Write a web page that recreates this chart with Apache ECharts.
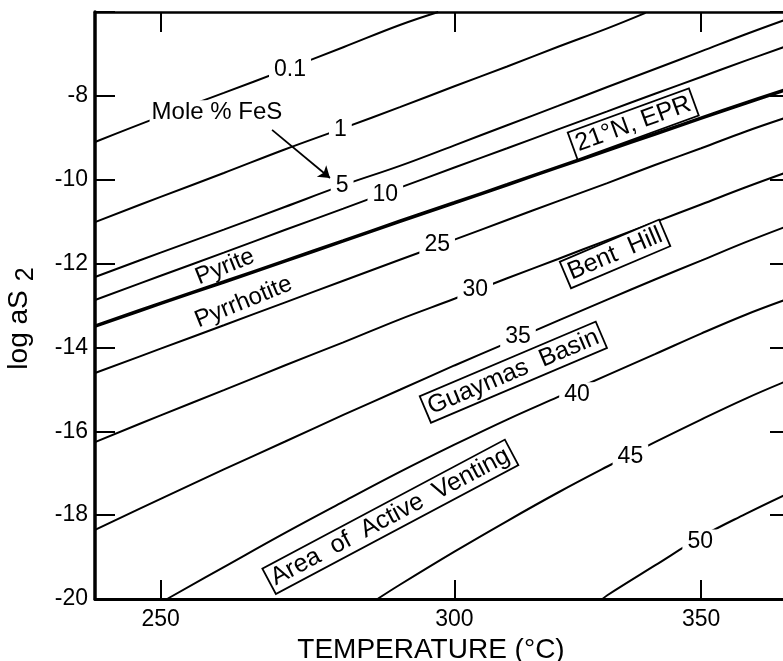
<!DOCTYPE html>
<html><head><meta charset="utf-8">
<script src="https://cdn.jsdelivr.net/npm/echarts@6/dist/echarts.min.js"></script>
<style>html,body{margin:0;padding:0;background:#fff}#c{width:783px;height:661px}</style>
</head><body><div id="c"></div>
<script>
// ---- axis definitions ----
const tempTicks = [250, 300, 350];
const logTicks = [-20, -18, -16, -14, -12, -10, -8];
const tMin = 240, tMax = 370, yMin = -20, yMax = -6;

// ---- contour lines: Mole % FeS in sphalerite (temperature °C, log aS2) ----
const gridT = [240, 250, 260, 270, 280, 290, 300, 310, 320, 330, 340, 350, 360, 369];
const fes01T = [240, 250, 260, 270, 280, 290, 297];
const fes01Y = [-9.10, -8.49, -7.93, -7.38, -6.84, -6.31, -6.00];
const fes1T = [240, 250, 260, 270, 280, 290, 300, 310, 320, 330, 338];
const fes1Y = [-11.01, -10.41, -9.84, -9.28, -8.77, -8.27, -7.77, -7.30, -6.83, -6.39, -6.02];
const fes5Y = [-12.32, -11.74, -11.19, -10.65, -10.13, -9.67, -9.18, -8.70, -8.24, -7.79, -7.36, -6.94, -6.53, -6.19];
const fes10Y = [-12.87, -12.29, -11.74, -11.20, -10.69, -10.19, -9.71, -9.25, -8.80, -8.37, -7.95, -7.55, -7.16, -6.83];
const pyPoY = [-13.49, -12.95, -12.44, -11.94, -11.46, -10.99, -10.55, -10.12, -9.70, -9.30, -8.91, -8.53, -8.17, -7.86];
const fes25Y = [-14.61, -14.03, -13.47, -12.93, -12.41, -11.91, -11.43, -10.96, -10.51, -10.08, -9.65, -9.25, -8.85, -8.53];
const fes30Y = [-16.26, -15.62, -15.02, -14.43, -13.88, -13.33, -12.84, -12.35, -11.89, -11.44, -11.01, -10.59, -10.18, -9.84];
const fes35Y = [-18.35, -17.61, -16.91, -16.25, -15.61, -15.01, -14.43, -13.89, -13.36, -12.86, -12.38, -11.93, -11.49, -11.13];
const fes40T = [251, 260, 270, 280, 290, 300, 310, 320, 330, 340, 350, 360, 369];
const fes40Y = [-20.00, -19.24, -18.43, -17.68, -16.97, -16.32, -15.72, -15.18, -14.66, -14.16, -13.67, -13.22, -12.87];
const fes45T = [286, 290, 300, 310, 320, 330, 340, 350, 360, 369];
const fes45Y = [-20.00, -19.66, -18.87, -18.14, -17.46, -16.84, -16.26, -15.72, -15.22, -14.82];
const fes50T = [329, 330, 340, 350, 360, 369];
const fes50Y = [-20.00, -19.91, -19.20, -18.52, -17.97, -17.52];

// ---- contour value labels ----
const levelText = ['0.1', '1', '5', '10', '25', '30', '35', '40', '45', '50'];
const levelT = [270.9, 279.5, 279.8, 287.4, 296.8, 303.9, 312.1, 323.8, 334.8, 349.8];
const levelY = [-7.38, -8.81, -10.13, -10.36, -11.56, -12.63, -13.75, -15.13, -16.61, -18.64];

// ---- field names / boxed labels ----
const fieldText = ['Pyrite', 'Pyrrhotite'];
const fieldT = [260.2, 263.2];
const fieldY = [-12.08, -12.92];
const boxText = ['21°N, EPR', 'Bent  Hill', 'Guaymas  Basin', 'Area  of  Active  Venting'];
const boxT = [335.4, 331.6, 311.2, 288.3];
const boxY = [-8.67, -11.77, -14.59, -18.04];
const noteText = 'Mole % FeS';
const noteT = 258.9, noteY = -8.39;
const arrowT = [267.9, 277.7];
const arrowY = [-8.81, -9.96];

const FONT = 'Liberation Sans, Arial, Helvetica, sans-serif';
const toX = t => -1000 / (t + 273.15);
const fromX = x => -1000 / x - 273.15;
const pairs = (T, Y) => T.map((t, i) => [toX(t), Y[i]]);

function contour(name, T, Y, width) {
  return {
    name, type: 'line', data: pairs(T, Y), showSymbol: false, smooth: 0.4,
    lineStyle: { color: '#000', width: width || 2 }, silent: true, z: 2
  };
}
function textSeries(name, texts, T, Y, label, extra) {
  return Object.assign({
    name, type: 'scatter', symbolSize: 0, silent: true, z: 5,
    itemStyle: { color: 'rgba(0,0,0,0)', opacity: 1 },
    data: texts.map((s, i) => ({ name: s, value: [toX(T[i]), Y[i]] })),
    label: Object.assign({ show: true, position: 'inside', formatter: p => p.name,
      color: '#000', fontFamily: FONT, opacity: 1 }, label),
    labelLayout: { hideOverlap: false }
  }, extra || {});
}

const chart = echarts.init(document.getElementById('c'), null, { renderer: 'canvas' });
const tickX = tempTicks.map(toX);
const boxRot = [20, 23, 23, 28];
const boxesSeries = textSeries('boxes', boxText, boxT, boxY,
  { fontSize: 25, backgroundColor: '#fff', borderColor: '#000', borderWidth: 1.8, padding: [2, 3, 0, 3] }, { z: 6 });
boxesSeries.data.forEach((d, i) => { d.label = { rotate: boxRot[i] }; });

const option = {
  animation: false,
  backgroundColor: '#fff',
  textStyle: { fontFamily: FONT },
  grid: { left: 95, top: 12, right: -6, bottom: 62, containLabel: false, outerBoundsMode: 'none' },
  xAxis: [{
    type: 'value', min: toX(tMin), max: toX(tMax), position: 'bottom',
    name: 'TEMPERATURE (°C)', nameLocation: 'middle', nameGap: 31,
    nameTextStyle: { fontSize: 28, color: '#000', fontFamily: FONT, padding: [0, 22, 0, 0] },
    axisLine: { show: true, lineStyle: { color: '#000', width: 3 } },
    axisTick: { show: true, inside: true, length: 19, customValues: tickX, lineStyle: { color: '#000', width: 2 } },
    axisLabel: { show: true, customValues: tickX, formatter: v => String(Math.round(fromX(v))), fontSize: 23, color: '#000', margin: 9, fontFamily: FONT },
    splitLine: { show: false }
  }, {
    type: 'value', min: toX(tMin), max: toX(tMax), position: 'top',
    axisLine: { show: true, lineStyle: { color: '#000', width: 2.5 } },
    axisTick: { show: true, inside: true, length: 20, customValues: tickX, lineStyle: { color: '#000', width: 2 } },
    axisLabel: { show: false }, splitLine: { show: false }
  }],
  yAxis: [{
    type: 'value', min: yMin, max: yMax, interval: 2, position: 'left',
    name: '{a|log aS}{s|2}', nameLocation: 'middle', nameGap: 56,
    nameTextStyle: { color: '#000', fontFamily: FONT, padding: [0, 0, 0, -26],
      rich: { a: { fontSize: 28, fontFamily: FONT, color: '#000' },
              s: { fontSize: 25, fontFamily: FONT, color: '#000', padding: [14, 0, 0, 9] } } },
    axisLine: { show: true, lineStyle: { color: '#000', width: 3.5 } },
    axisTick: { show: true, inside: true, length: 20, lineStyle: { color: '#000', width: 2 } },
    axisLabel: { show: true, customValues: logTicks, fontSize: 23, color: '#000', margin: 7, fontFamily: FONT },
    splitLine: { show: false }
  }, {
    type: 'value', min: yMin, max: yMax, interval: 2, position: 'right',
    axisLine: { show: true, lineStyle: { color: '#000', width: 3 } },
    axisTick: { show: true, inside: true, length: 19, lineStyle: { color: '#000', width: 2 } },
    axisLabel: { show: false }, splitLine: { show: false }
  }],
  series: [
    contour('0.1', fes01T, fes01Y),
    contour('1', fes1T, fes1Y),
    contour('5', gridT, fes5Y),
    contour('10', gridT, fes10Y),
    contour('Pyrite/Pyrrhotite', gridT, pyPoY, 3.5),
    contour('25', gridT, fes25Y),
    contour('30', gridT, fes30Y),
    contour('35', gridT, fes35Y),
    contour('40', fes40T, fes40Y),
    contour('45', fes45T, fes45Y),
    contour('50', fes50T, fes50Y),
    textSeries('levels', levelText, levelT, levelY,
      { fontSize: 23, backgroundColor: '#fff', padding: [1, 5] },
      { markLine: {
          silent: true, symbol: ['none', 'arrow'], symbolSize: 11,
          lineStyle: { color: '#000', width: 1.8, type: 'solid', opacity: 1 }, itemStyle: { color: '#000' },
          label: { show: false },
          data: [[{ coord: [toX(arrowT[0]), arrowY[0]] }, { coord: [toX(arrowT[1]), arrowY[1]] }]]
      } }),
    textSeries('note', [noteText], [noteT], [noteY], { fontSize: 24, backgroundColor: '#fff', padding: [0, 2] }),
    textSeries('fields', fieldText, fieldT, fieldY, { fontSize: 24, rotate: 22 }),
    boxesSeries
  ]
};
chart.setOption(option);
</script>
</body></html>
